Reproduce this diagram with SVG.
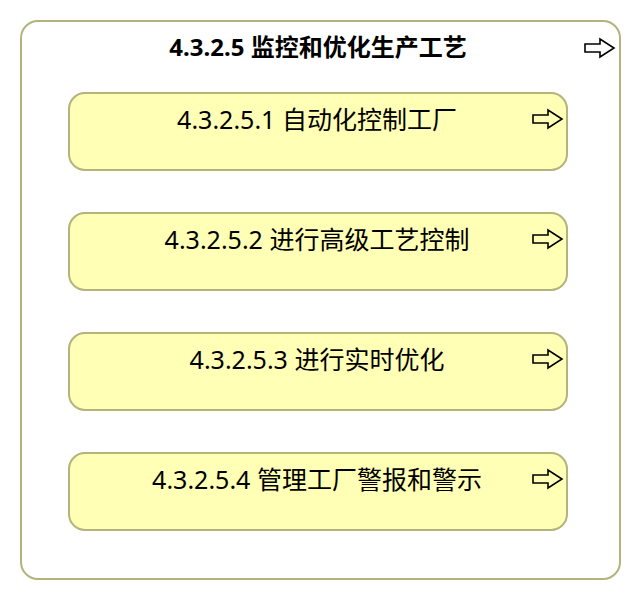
<svg xmlns="http://www.w3.org/2000/svg" xmlns:xlink="http://www.w3.org/1999/xlink" width="640" height="600" viewBox="0 0 640 600">
<style>
.outer{fill:#ffffff;stroke:#b3b37b;stroke-width:2}
.box{fill:#ffffb5;stroke:#b3b37b;stroke-width:2}
.lbl{font-family:"Noto Sans","Noto Sans CJK SC",sans-serif;font-size:25px;fill:#000;text-anchor:middle}
.ttl{font-family:"Noto Sans","Noto Sans CJK SC",sans-serif;font-size:24px;font-weight:bold;fill:#000;text-anchor:middle}
.arr{fill:none;stroke:#000;stroke-width:1.6;stroke-linejoin:miter}
</style>
<defs>
<path id="arrow" class="arr" d="M0,-4 H15 V-9 L29,0 L15,9 V4 H0 Z"/>
</defs>
<rect width="640" height="600" fill="#ffffff"/>
<g id="n0">
<rect class="outer" x="21" y="21" width="599" height="558" rx="17" ry="17"/>
<text class="ttl" x="318" y="56">4.3.2.5 监控和优化生产工艺</text>
<use xlink:href="#arrow" x="585" y="48"/>
</g>
<g id="n1">
<rect class="box" x="69" y="93" width="498" height="77" rx="16" ry="16"/>
<text class="lbl" x="317" y="129">4.3.2.5.1 自动化控制工厂</text>
<use xlink:href="#arrow" x="533" y="119"/>
</g>
<g id="n2">
<rect class="box" x="69" y="213" width="498" height="77" rx="16" ry="16"/>
<text class="lbl" x="317" y="249">4.3.2.5.2 进行高级工艺控制</text>
<use xlink:href="#arrow" x="533" y="239"/>
</g>
<g id="n3">
<rect class="box" x="69" y="333" width="498" height="77" rx="16" ry="16"/>
<text class="lbl" x="317" y="369">4.3.2.5.3 进行实时优化</text>
<use xlink:href="#arrow" x="533" y="359"/>
</g>
<g id="n4">
<rect class="box" x="69" y="453" width="498" height="77" rx="16" ry="16"/>
<text class="lbl" x="317" y="489">4.3.2.5.4 管理工厂警报和警示</text>
<use xlink:href="#arrow" x="533" y="479"/>
</g>
<g id="connectors"></g>
</svg>
